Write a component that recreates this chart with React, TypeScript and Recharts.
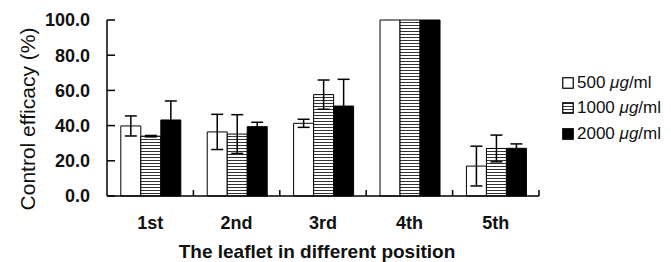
import React from 'react';
import { BarChart, Bar, XAxis, YAxis, ErrorBar } from 'recharts';

const categories = ['1st', '2nd', '3rd', '4th', '5th'];
const v500 = [39.8, 36.4, 41.3, 100, 17.0];
const e500 = [5.7, 10.0, 2.3, 0, 11.3];
const v1000 = [34.0, 35.2, 57.6, 100, 27.0];
const e1000 = [0.4, 11.0, 8.3, 0, 7.6];
const v2000 = [43.2, 39.4, 51.1, 100, 27.1];
const e2000 = [10.8, 2.5, 15.2, 0, 2.5];
const yTicks = [0, 20, 40, 60, 80, 100];
const seriesNames = ['500', '1000', '2000'];

const data = categories.map((c, i) => ({
  name: c,
  a: v500[i], ea: e500[i],
  b: v1000[i], eb: e1000[i],
  c: v2000[i], ec: e2000[i],
}));

const FONT = '"Liberation Sans", Arial, Helvetica, sans-serif';
const PLOT_LEFT = 107;
const PLOT_RIGHT = 539;
const PLOT_BOTTOM = 196;
const HALF_BAND = (PLOT_RIGHT - PLOT_LEFT) / categories.length / 2;

const YTick = (props: any) => {
  const { y, payload } = props;
  return (
    <g>
      <line x1={PLOT_LEFT} x2={PLOT_LEFT + 8} y1={y} y2={y} stroke="#000" strokeWidth={1.5} />
      <text x={90} y={y + 6.4} textAnchor="end" fontSize={18} fontWeight="bold" fontFamily={FONT} fill="#111">
        {Number(payload.value).toFixed(1)}
      </text>
    </g>
  );
};

const XTick = (props: any) => {
  const { x, payload } = props;
  return (
    <g>
      <line x1={x + HALF_BAND} x2={x + HALF_BAND} y1={PLOT_BOTTOM} y2={PLOT_BOTTOM - 6} stroke="#000" strokeWidth={1.5} />
      <text x={x} y={228.5} textAnchor="middle" fontSize={18} fontWeight="bold" fontFamily={FONT} fill="#111">
        {payload.value}
      </text>
    </g>
  );
};

const Swatch = ({ kind }: { kind: number }) => (
  <svg width={12} height={12} style={{ display: 'block', marginRight: 3 }}>
    <defs>
      <pattern id={'lgHatch' + kind} width="4" height="3" patternUnits="userSpaceOnUse">
        <rect width="4" height="3" fill="#fff" />
        <line x1="0" x2="4" y1="1.5" y2="1.5" stroke="#333" strokeWidth="1" />
      </pattern>
    </defs>
    <rect x={0.75} y={0.75} width={10.5} height={10.5}
      fill={kind === 0 ? '#fff' : kind === 1 ? 'url(#lgHatch1)' : '#000'}
      stroke="#000" strokeWidth={1.2} />
  </svg>
);

const LegendBox = () => (
  <div style={{ position: 'absolute', left: 562, top: 70, fontFamily: FONT, fontSize: 17, color: '#111' }}>
    {seriesNames.map((n, i) => (
      <div key={n} style={{ display: 'flex', alignItems: 'center', height: 25.5, whiteSpace: 'nowrap' }}>
        <Swatch kind={i} />
        <span>{n} <i>μg</i>/ml</span>
      </div>
    ))}
  </div>
);

export default function App() {
  return (
    <div style={{ position: 'relative', width: 671, height: 262, background: '#fff' }}>
      <style>{`body{margin:0;background:#fff}`}</style>
      <BarChart
        width={671}
        height={262}
        data={data}
        margin={{ top: 20, right: 132, bottom: 16, left: 0 }}
        barCategoryGap="16%"
        barGap={0}
      >
        <defs>
          <pattern id="hatch" width="4" height="3" patternUnits="userSpaceOnUse">
            <rect width="4" height="3" fill="#fff" />
            <line x1="0" x2="4" y1="1.5" y2="1.5" stroke="#333" strokeWidth="1" />
          </pattern>
        </defs>
        <XAxis
          dataKey="name"
          height={50}
          tickLine={false}
          axisLine={{ stroke: '#000', strokeWidth: 1.5 }}
          tick={<XTick />}
          interval={0}
          label={{
            content: () => (
              <text x={317} y={258} textAnchor="middle" fontSize={19} fontWeight="bold" fontFamily={FONT} fill="#111">
                The leaflet in different position
              </text>
            ),
          }}
        />
        <YAxis
          width={107}
          domain={[0, 100]}
          ticks={yTicks}
          tickLine={false}
          axisLine={{ stroke: '#000', strokeWidth: 1.5 }}
          tick={<YTick />}
          interval={0}
          label={{
            content: () => (
              <text x={35} y={119} transform="rotate(-90 35 119)" textAnchor="middle" fontSize={21} fontFamily={FONT} fill="#111">
                Control efficacy (%)
              </text>
            ),
          }}
        />
        <Bar dataKey="a" fill="#fff" stroke="#000" strokeWidth={1} isAnimationActive={false}>
          <ErrorBar dataKey="ea" width={6} stroke="#000" strokeWidth={1.5} />
        </Bar>
        <Bar dataKey="b" fill="url(#hatch)" stroke="#000" strokeWidth={1} isAnimationActive={false}>
          <ErrorBar dataKey="eb" width={6} stroke="#000" strokeWidth={1.5} />
        </Bar>
        <Bar dataKey="c" fill="#000" stroke="#000" strokeWidth={1} isAnimationActive={false}>
          <ErrorBar dataKey="ec" width={6} stroke="#000" strokeWidth={1.5} />
        </Bar>
      </BarChart>
      <LegendBox />
    </div>
  );
}
